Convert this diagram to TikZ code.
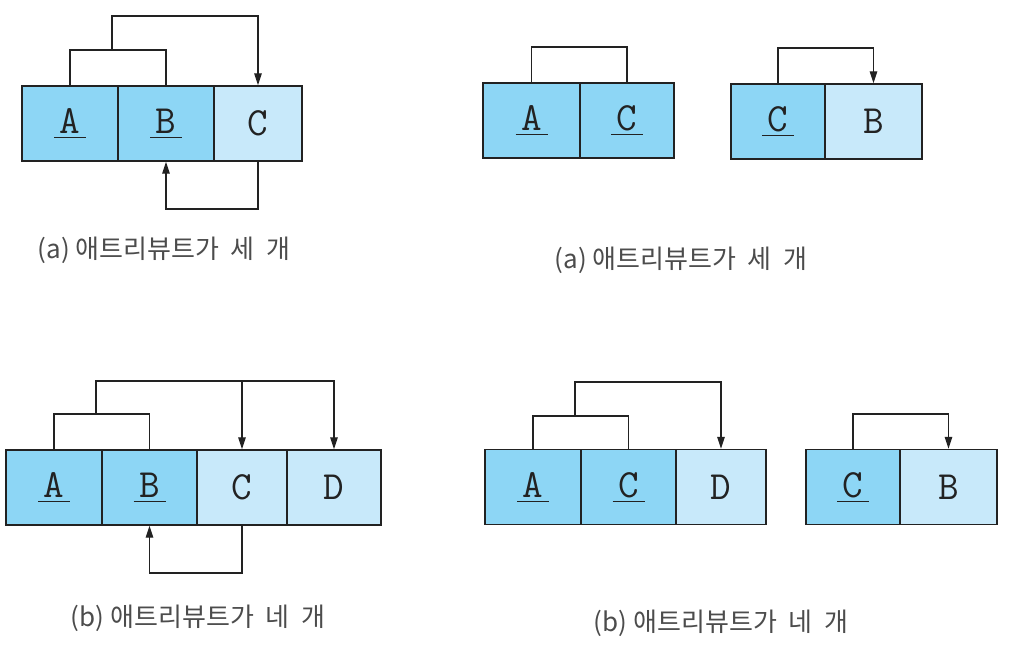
\documentclass[tikz,border=0pt]{standalone}
\usepackage{fontspec}
\newfontfamily\kofont{Noto Sans CJK KR}
\usetikzlibrary{arrows.meta}
\definecolor{keyblue}{HTML}{8DD6F5}
\definecolor{attblue}{HTML}{C8E9FA}
\definecolor{edge}{HTML}{222222}
\newcommand\keyul[1]{\underline{\makebox[0.8em]{#1}\rule[-0.06em]{0pt}{0.5em}}}
\tikzset{
  cell/.style={draw=edge, line width=1.4pt, minimum height=75pt, inner sep=0pt,
    font=\ttfamily\fontsize{40}{44}\selectfont, text=edge},
  keycell/.style={cell, fill=keyblue},
  attcell/.style={cell, fill=attblue},
  link/.style={draw=edge, line width=1.3pt},
  arr/.style={link, -{Triangle[length=12pt,width=7.5pt]}},
  caption/.style={font=\kofont\fontsize{26}{30}\selectfont, text=black!70}
}
\begin{document}
\begin{tikzpicture}[x=1pt,y=-1pt]
\useasboundingbox (0,0) rectangle (1014,651);
% ---------- top left ----------
\node[keycell, minimum width=96pt] (tlA) at (70,123.5) {\keyul{A}};
\node[keycell, minimum width=96pt] (tlB) at (166,123.5) {\keyul{B}};
\node[attcell, minimum width=88pt] (tlC) at (258,123.5) {C};
\coordinate (tl1) at (116,50);
\coordinate (tlm) at (112,50);
\coordinate (tl2) at (200,16);
\coordinate (tl3) at (210,209);
\draw[link] (tlA.north) |- (tl1) -| (tlB.north);
\draw[arr] (tlm) |- (tl2) -| (tlC.north);
\draw[arr] (tlC.south) |- (tl3) -| (tlB.south);
\node[caption] (tlcap) at (164,250) {(a) 애트리뷰트가\ \ 세\ \ 개};
% ---------- top right ----------
\node[keycell, minimum width=97pt] (trA) at (531.5,120.5) {\keyul{A}};
\node[keycell, minimum width=94pt] (trC) at (627,120.5) {\keyul{C}};
\node[keycell, minimum width=94pt] (trC2) at (778,121.5) {\keyul{C}};
\node[attcell, minimum width=97pt] (trB2) at (873.5,121.5) {B};
\coordinate (tr1) at (580,47);
\coordinate (tr2) at (825,48);
\draw[link] (trA.north) |- (tr1) -| (trC.north);
\draw[arr] (trC2.north) |- (tr2) -| (trB2.north);
\node[caption] (trcap) at (681,260) {(a) 애트리뷰트가\ \ 세\ \ 개};
% ---------- bottom left ----------
\node[keycell, minimum width=96pt] (blA) at (54,487.5) {\keyul{A}};
\node[keycell, minimum width=95pt] (blB) at (149.5,487.5) {\keyul{B}};
\node[attcell, minimum width=90pt] (blC) at (242,487.5) {C};
\node[attcell, minimum width=94pt] (blD) at (334,487.5) {D};
\coordinate (bl1) at (99,414);
\coordinate (blm) at (96,414);
\coordinate (bl2) at (200,381);
\coordinate (bl3) at (242,381);
\coordinate (bl4) at (200,573);
\draw[link] (blA.north) |- (bl1) -| (blB.north);
\draw[arr] (blm) |- (bl2) -| (blD.north);
\draw[arr] (bl3) -- (blC.north);
\draw[arr] (blC.south) |- (bl4) -| (blB.south);
\node[caption] (blcap) at (198,618) {(b) 애트리뷰트가\ \ 네\ \ 개};
% ---------- bottom right ----------
\node[keycell, minimum width=96pt] (brA) at (533,487) {\keyul{A}};
\node[keycell, minimum width=95pt] (brC) at (628.5,487) {\keyul{C}};
\node[attcell, minimum width=90pt] (brD) at (721,487) {D};
\node[keycell, minimum width=94pt] (brC2) at (853,487) {\keyul{C}};
\node[attcell, minimum width=97pt] (brB2) at (948.5,487) {B};
\coordinate (br1) at (578,416);
\coordinate (brm) at (575,416);
\coordinate (br2) at (650,382);
\coordinate (br3) at (900,414);
\draw[link] (brA.north) |- (br1) -| (brC.north);
\draw[arr] (brm) |- (br2) -| (brD.north);
\draw[arr] (brC2.north) |- (br3) -| (brB2.north);
\node[caption] (brcap) at (721,623) {(b) 애트리뷰트가\ \ 네\ \ 개};
\end{tikzpicture}
\end{document}
